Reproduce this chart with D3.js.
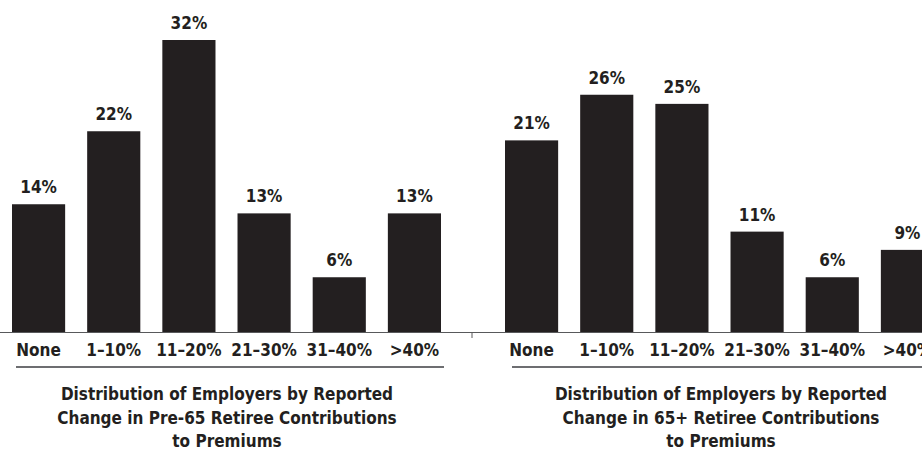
<!DOCTYPE html>
<html>
<head>
<meta charset="utf-8">
<script src="https://cdn.jsdelivr.net/npm/d3@7"></script>
<style>
  html, body { margin: 0; padding: 0; background: #fff; }
  svg { display: block; }
  text { font-family: "Liberation Sans Narrow", "DejaVu Sans Condensed", "Roboto", sans-serif; font-weight: bold; fill: #231f20; }
</style>
</head>
<body>
<svg id="chart" width="922" height="450"></svg>
<script>
const categories = ["None", "1\u201310%", "11\u201320%", "21\u201330%", "31\u201340%", ">40%"];
const pre65Values = [14, 22, 32, 13, 6, 13];
const post65Values = [21, 26, 25, 11, 6, 9];
const pre65Title = ["Distribution of Employers by Reported", "Change in Pre-65 Retiree Contributions", "to Premiums"];
const post65Title = ["Distribution of Employers by Reported", "Change in 65+ Retiree Contributions", "to Premiums"];

const svg = d3.select("#chart");
const W = 922;
const baseY = 332;
const y = d3.scaleLinear().domain([0, 32]).range([baseY, 40]);

const panels = [
  { values: pre65Values, title: pre65Title, range: [12, 441], line: [16, 444], titleX: 227 },
  { values: post65Values, title: post65Title, range: [505, 934], line: [512, 922], titleX: 721 }
];

// baseline across full width with a single tick
svg.append("line").attr("x1", 0).attr("x2", W).attr("y1", baseY + 0.5).attr("y2", baseY + 0.5)
  .attr("stroke", "#58595b").attr("stroke-width", 1);
svg.append("line").attr("x1", 472).attr("x2", 472).attr("y1", baseY).attr("y2", baseY + 6)
  .attr("stroke", "#58595b").attr("stroke-width", 1);

panels.forEach(p => {
  const x = d3.scaleBand().domain(categories).range(p.range).paddingInner(0.293).paddingOuter(0);
  const g = svg.append("g");
  const data = categories.map((c, i) => ({ c, v: p.values[i] }));

  g.selectAll("rect").data(data).join("rect")
    .attr("x", d => x(d.c)).attr("width", x.bandwidth())
    .attr("y", d => y(d.v)).attr("height", d => baseY - y(d.v))
    .attr("fill", "#231f20");

  g.selectAll("text.val").data(data).join("text").attr("class", "val")
    .attr("x", d => x(d.c) + x.bandwidth() / 2)
    .attr("y", d => y(d.v) - 11)
    .attr("text-anchor", "middle")
    .style("font-size", "17px")
    .text(d => d.v + "%");

  const axis = d3.axisBottom(x).tickSize(0).tickPadding(0);
  const ag = svg.append("g").attr("transform", `translate(0,${baseY})`).call(axis);
  ag.select(".domain").remove();
  ag.selectAll("text")
    .attr("y", 24).attr("dy", null)
    .style("font-size", "17px")
    .style("font-family", "\"Liberation Sans Narrow\", \"DejaVu Sans Condensed\", sans-serif")
    .style("font-weight", "bold")
    .attr("fill", "#231f20");

  svg.append("line").attr("x1", p.line[0]).attr("x2", p.line[1])
    .attr("y1", 367).attr("y2", 367).attr("stroke", "#6d6e71").attr("stroke-width", 2);

  const t = svg.append("text").attr("text-anchor", "middle").style("font-size", "17px");
  p.title.forEach((line, i) => {
    t.append("tspan").attr("x", p.titleX).attr("y", 400 + i * 23.5).text(line);
  });
});
</script>
</body>
</html>
